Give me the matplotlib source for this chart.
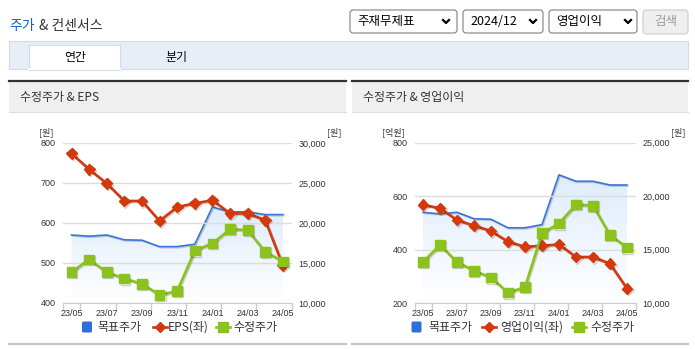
import numpy as np
import matplotlib
matplotlib.use('Agg')
import matplotlib.pyplot as plt
import matplotlib.patheffects as pe
from matplotlib.patches import Rectangle, FancyBboxPatch, Polygon

plt.rcParams['font.family'] = ['Noto Sans CJK KR', 'DejaVu Sans']

# ---- data ----
months = ['23/05', '23/06', '23/07', '23/08', '23/09', '23/10', '23/11',
          '23/12', '24/01', '24/02', '24/03', '24/04', '24/05']
target_price = [18500, 18350, 18500, 17900, 17850, 17050, 17050,
                17350, 22000, 21400, 21400, 21050, 21050]
adj_price = [13850, 15450, 13850, 13050, 12400, 11000, 11500,
             16550, 17450, 19230, 19120, 16380, 15200]
eps = [774, 734, 699, 655, 655, 605, 640, 649, 657, 624, 624, 607, 494]
op_income = [568, 555, 511, 490, 470, 430, 411, 415, 420, 373, 373, 348, 255]

eps_ticks = [400, 500, 600, 700, 800]
eps_price_ticks = [10000, 15000, 20000, 25000, 30000]
op_ticks = [200, 400, 600, 800]
op_price_ticks = [10000, 15000, 20000, 25000]

W, H = 695, 349
BLUE = '#3a75db'
RED = '#d4380d'
GREEN = '#8cc21c'
TXT = '#333333'
NUM_FONT = 'Liberation Sans'
SHADOW = [pe.SimpleLineShadow(offset=(0.8, -0.8), alpha=0.18), pe.Normal()]


def frac(x0, y0, x1, y1):
    return [x0 / W, 1 - y1 / H, (x1 - x0) / W, (y1 - y0) / H]


def draw_chart(fig, px, left_vals, left_ticks, right_ticks):
    x = np.arange(len(months))
    rect = frac(*px)

    # back layer: target price fill + line (right scale)
    ax2 = fig.add_axes(rect, zorder=1)
    ymin, ymax = right_ticks[0], right_ticks[-1]
    top = (0.87, 0.925, 0.985)
    grad = np.linspace(0, 1, 256)[:, None]
    img = np.empty((256, 1, 3))
    for i in range(3):
        img[:, :, i] = top[i] + (1 - top[i]) * grad
    verts = list(zip(x, target_price)) + [(x[-1], ymin), (x[0], ymin)]
    clip = Polygon(verts, closed=True, fc='none', ec='none')
    ax2.add_patch(clip)
    im = ax2.imshow(img, extent=[-0.5, len(x) - 0.5, ymin, max(target_price)],
                    origin='upper', aspect='auto', zorder=1)
    im.set_clip_path(clip)
    ax2.plot(x, target_price, color=BLUE, lw=1.2, zorder=2, path_effects=SHADOW)
    ax2.set_xlim(-0.5, len(x) - 0.5)
    ax2.set_ylim(ymin, ymax)
    ax2.yaxis.tick_right()
    ax2.set_yticks(right_ticks)
    ax2.set_yticklabels([f'{v:,}' for v in right_ticks])
    ax2.tick_params(axis='y', length=0, labelsize=6.5, pad=5, labelcolor=TXT)
    ax2.set_xticks([])
    for s in ax2.spines.values():
        s.set_visible(False)
    plt.setp(ax2.get_yticklabels(), fontfamily=NUM_FONT)

    # middle layer: left scale series + grid + x axis
    ax = fig.add_axes(rect, zorder=2)
    ax.patch.set_visible(False)
    ax.plot(x, left_vals, color=RED, lw=1.9, marker='D', ms=5.5,
            mec=RED, mfc=RED, zorder=3, path_effects=SHADOW)
    ax.set_xlim(-0.5, len(x) - 0.5)
    ax.set_ylim(left_ticks[0], left_ticks[-1])
    ax.set_yticks(left_ticks)
    ax.yaxis.grid(True, color='#dcdcdc', lw=1)
    ax.set_axisbelow(True)
    ax.tick_params(axis='y', length=0, labelsize=6.5, pad=5, labelcolor=TXT)
    bounds = [-0.5] + list(np.arange(0.5, len(x), 2))
    ax.set_xticks(bounds)
    ax.set_xticklabels([])
    ax.set_xticks(x[::2], minor=True)
    ax.set_xticklabels(months[::2], minor=True)
    ax.tick_params(axis='x', which='major', length=5, color='#c3cddc', width=1)
    ax.tick_params(axis='x', which='minor', length=0, labelsize=6.5, pad=4,
                   labelcolor=TXT)
    for name, s in ax.spines.items():
        s.set_visible(name == 'bottom')
    ax.spines['bottom'].set_color('#c3cddc')
    plt.setp(ax.get_yticklabels(), fontfamily=NUM_FONT)
    plt.setp(ax.get_xticklabels(minor=True), fontfamily=NUM_FONT)

    # front layer: adjusted price (right scale)
    ax3 = fig.add_axes(rect, zorder=3)
    ax3.patch.set_visible(False)
    ax3.plot(x, adj_price, color=GREEN, lw=1.9, marker='s', ms=7,
             mec=GREEN, mfc=GREEN, path_effects=SHADOW)
    ax3.set_xlim(-0.5, len(x) - 0.5)
    ax3.set_ylim(ymin, ymax)
    ax3.axis('off')


def legend(bg, xs, label2):
    y = 327
    bg.add_patch(FancyBboxPatch((xs[0], y - 5.5), 10, 11,
                                boxstyle='round,pad=0,rounding_size=1.5',
                                fc='#2a6fdc', ec='none'))
    bg.text(xs[1], y, '목표주가', fontsize=8.6, color=TXT, va='center')
    bg.plot([xs[2], xs[2] + 14], [y, y], color=RED, lw=1.9)
    bg.plot([xs[2] + 7], [y], marker='D', ms=5, color=RED)
    bg.text(xs[3], y, label2, fontsize=8.6, color=TXT, va='center')
    bg.plot([xs[4], xs[4] + 14], [y, y], color=GREEN, lw=1.9)
    bg.plot([xs[4] + 7], [y], marker='s', ms=6.5, color=GREEN)
    bg.text(xs[5], y, '수정주가', fontsize=8.6, color=TXT, va='center')


fig = plt.figure(figsize=(W / 100, H / 100), dpi=100)
bg = fig.add_axes([0, 0, 1, 1], zorder=0)
bg.set_xlim(0, W)
bg.set_ylim(H, 0)
bg.axis('off')

# title
bg.text(9, 26, '주가', fontsize=10, color='#1a5bd0', va='center')
bg.text(39, 26, '& 컨센서스', fontsize=10, color=TXT, va='center')

# dropdowns
def dropdown(x0, x1, label, chev):
    bg.add_patch(FancyBboxPatch((x0, 10), x1 - x0, 23,
                                boxstyle='round,pad=0,rounding_size=3',
                                fc='white', ec='#808080', lw=0.8))
    bg.text(x0 + 7, 21.5, label, fontsize=9, color='black', va='center')
    bg.plot([chev - 3, chev, chev + 3], [20, 23, 20], color='black', lw=1.6)

dropdown(350, 457, '주재무제표', 446)
dropdown(463, 543, '2024/12', 533)
dropdown(549, 637, '영업이익', 628)
bg.add_patch(FancyBboxPatch((643, 10), 45, 24,
                            boxstyle='round,pad=0,rounding_size=3',
                            fc='#efefef', ec='#cccccc', lw=0.8))
bg.text(665.5, 22, '검색', fontsize=9, color='#9a9a9a', va='center', ha='center')

# tabs
bg.add_patch(Rectangle((9, 41), 679, 28, fc='#e8eef8', ec='#d3dbe8', lw=0.8))
bg.add_patch(Rectangle((29, 45), 91, 25, fc='white', ec='#d3dbe8', lw=0.8))
bg.plot([29.4, 119.6], [69.2, 69.2], color='white', lw=1.5)
bg.text(75, 57, '연간', fontsize=8.6, color='black', va='center', ha='center')
bg.text(176, 57, '분기', fontsize=8.6, color='black', va='center', ha='center')

# panel headers and bottom lines
for x0, x1, title in [(9, 345.5, '수정주가 & EPS'), (352, 688, '수정주가 & 영업이익')]:
    bg.add_patch(Rectangle((x0, 82), x1 - x0, 30, fc='#efefef', ec='none'))
    bg.plot([x0, x1], [81, 81], color='#333333', lw=1.6)
    bg.plot([x0, x1], [112, 112], color='#dddddd', lw=0.8)
    bg.plot([x0, x1], [343.5, 343.5], color='#c8c8c8', lw=1.6)
    bg.text(x0 + 11, 97.5, title, fontsize=8.6, color=TXT, va='center')

# axis unit labels
bg.text(54, 132.5, '[원]', fontsize=6.5, color=TXT, va='center', ha='right')
bg.text(342, 132.5, '[원]', fontsize=6.5, color=TXT, va='center', ha='right')
bg.text(405, 132.5, '[억원]', fontsize=6.5, color=TXT, va='center', ha='right')
bg.text(686, 132.5, '[원]', fontsize=6.5, color=TXT, va='center', ha='right')

draw_chart(fig, (62.7, 143, 291.7, 303), eps, eps_ticks, eps_price_ticks)
draw_chart(fig, (414.5, 142.7, 635.5, 303.3), op_income, op_ticks, op_price_ticks)

legend(bg, [82, 97, 153, 168, 216, 233], 'EPS(좌)')
legend(bg, [411.5, 428, 482, 500, 572, 590], '영업이익(좌)')

fig.savefig('out.png', dpi=100)
